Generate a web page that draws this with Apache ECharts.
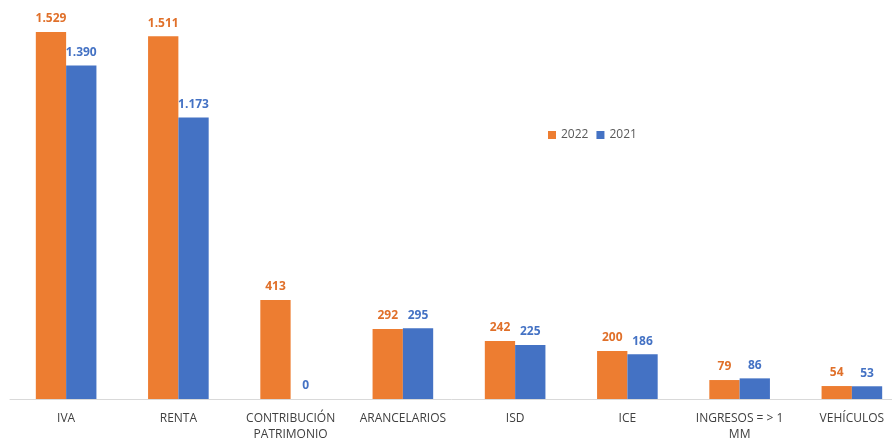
<!DOCTYPE html>
<html><head><meta charset="utf-8">
<script src="https://cdn.jsdelivr.net/npm/echarts@6/dist/echarts.min.js"></script>
<style>html,body{margin:0;padding:0;background:#fff}#c{width:892px;height:439px}</style>
</head><body><div id="c"></div>
<script>
const categories = ['IVA','RENTA','CONTRIBUCIÓN\nPATRIMONIO','ARANCELARIOS','ISD','ICE','INGRESOS = > 1\nMM','VEHÍCULOS'];
const values2022 = [1529,1511,413,292,242,200,79,54];
const values2021 = [1390,1173,0,295,225,186,86,53];
const seriesNames = ['2022','2021'];

function fmt(v){ return String(v).replace(/\B(?=(\d{3})+(?!\d))/g,'.'); }
const chart = echarts.init(document.getElementById('c'));
const lbl = (color)=>({show:true,position:'top',distance:7,color:color,fontWeight:'bold',fontSize:12,fontFamily:'Open Sans, sans-serif',formatter:p=>fmt(p.value)});
chart.setOption({
  animation:false,
  legend:{data:seriesNames,left:543,top:124,itemWidth:8,itemHeight:8,itemGap:8,icon:'rect',
    textStyle:{color:'#595959',fontSize:12,fontFamily:'Open Sans, sans-serif'}},
  grid:{left:10,top:15,width:898,bottom:40,containLabel:false,outerBoundsMode:'none'},
  xAxis:{type:'category',data:categories,
    axisLine:{lineStyle:{color:'#d9d9d9'}},axisTick:{show:false},
    axisLabel:{color:'#404040',fontSize:12,margin:12,lineHeight:16,interval:0,fontFamily:'Open Sans, sans-serif'}},
  yAxis:{type:'value',min:0,max:1600,show:false,splitLine:{show:false}},
  series:[
    {name:seriesNames[0],type:'bar',data:values2022,itemStyle:{color:'#ED7D31'},barGap:'0%',barCategoryGap:'46%',label:lbl('#E0702A')},
    {name:seriesNames[1],type:'bar',data:values2021,itemStyle:{color:'#4472C4'},label:lbl('#4472C4')}
  ]
});
</script></body></html>
